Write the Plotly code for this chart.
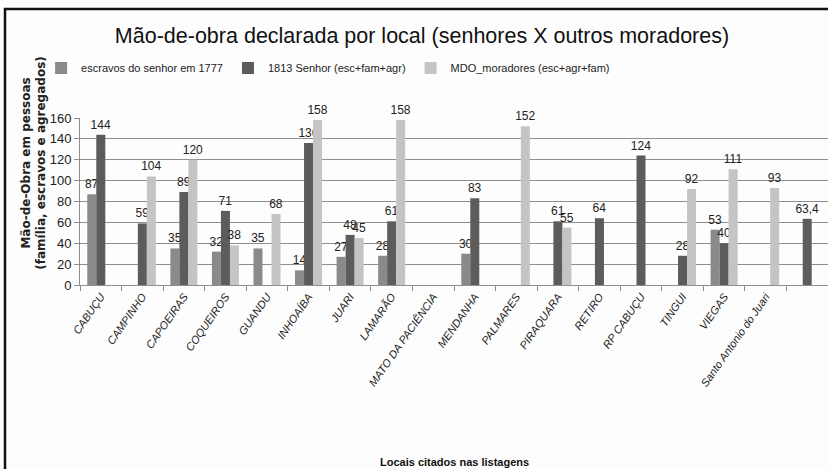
import plotly.graph_objects as go

categories = ["CABUÇU", "CAMPINHO", "CAPOEIRAS", "COQUEIROS", "GUANDU", "INHOAÍBA",
              "JUARI", "LAMARÃO", "MATO DA PACIÊNCIA", "MENDANHA", "PALMARES",
              "PIRAQUARA", "RETIRO", "RP CABUÇU", "TINGUI", "VIEGAS",
              "Santo Antonio do Juari", " "]

escravos_1777 = [87, None, 35, 32, 35, 14, 27, 28, None, 30, None, None, None, None, None, 53, None, None]
senhor_1813 = [144, 59, 89, 71, None, 136, 48, 61, None, 83, None, 61, 64, 124, 28, 40, None, 63.4]
mdo_moradores = [None, 104, 120, 38, 68, 158, 45, 158, None, None, 152, 55, None, None, 92, 111, 93, None]

series_names = ["escravos do senhor em 1777", "1813 Senhor (esc+fam+agr)", "MDO_moradores (esc+agr+fam)"]
series_values = [escravos_1777, senhor_1813, mdo_moradores]
series_colors = ["#8a8a8a", "#5c5c5c", "#c4c4c4"]

FONT = "Liberation Sans, Arial, sans-serif"

fig = go.Figure()
for name, vals, col in zip(series_names, series_values, series_colors):
    fig.add_trace(go.Bar(
        x=categories, y=vals, name=name,
        marker=dict(color=col, line=dict(width=0)),
        texttemplate="%{y}", textposition="outside",
        textfont=dict(family=FONT, size=12, color="#222"),
        constraintext="none", cliponaxis=False,
    ))

fig.update_layout(
    width=828, height=469, autosize=False,
    margin=dict(l=80, r=0, t=118, b=184),
    paper_bgcolor="#fdfdfd", plot_bgcolor="#fdfdfd",
    separators=",.",
    barmode="group", bargap=0.35, bargroupgap=0,
    title=dict(text="Mão-de-obra declarada por local (senhores X outros moradores)",
               x=422/828, xanchor="center", xref="container",
               y=1-35/469, yanchor="middle", yref="container",
               font=dict(family=FONT, size=21.5, color="#111")),
    legend=dict(orientation="h", x=-0.052, xanchor="left", y=1.30, yanchor="middle",
                font=dict(family=FONT, size=11, color="#222"),
                itemwidth=30, bgcolor="rgba(0,0,0,0)"),
    font=dict(family=FONT, color="#222"),
)

fig.update_yaxes(range=[0, 160], dtick=20, showgrid=True, gridcolor="#8f8f8f", gridwidth=1,
                 showline=True, linecolor="#8f8f8f", ticks="outside", ticklen=5,
                 tickcolor="#8f8f8f", zeroline=False, automargin=False,
                 tickfont=dict(family=FONT, size=13, color="#222"))
fig.update_xaxes(type="category", showline=True, linecolor="#8f8f8f", ticks="outside",
                 tickson="boundaries", ticklen=5, tickcolor="#8f8f8f", tickangle=-55,
                 automargin=False,
                 tickfont=dict(family=FONT, size=11, color="#222", style="italic"))

fig.add_annotation(text="Mão-de-Obra em pessoas<br>(família, escravos e agregados)",
                   xref="paper", yref="paper", x=-0.062, y=0.73, xanchor="center", yanchor="middle",
                   textangle=-90, showarrow=False,
                   font=dict(family="DejaVu Sans, sans-serif", size=12, color="#222", weight="bold"))
fig.add_annotation(text="Locais citados nas listagens", xref="paper", yref="paper",
                   x=0.5, y=-(462-285)/167, xanchor="center", yanchor="middle", showarrow=False,
                   font=dict(family=FONT, size=11, color="#111", weight="bold"))

fig.add_shape(type="rect", xref="paper", yref="paper",
              x0=(5-80)/748, x1=1.2, y0=-1.5, y1=(285-9)/167,
              line=dict(color="#111", width=2.5), fillcolor="rgba(0,0,0,0)", layer="above")

fig.write_html("out.html", config={"displayModeBar": False},
               post_script="document.body.style.margin='0';document.body.style.overflow='hidden';")
